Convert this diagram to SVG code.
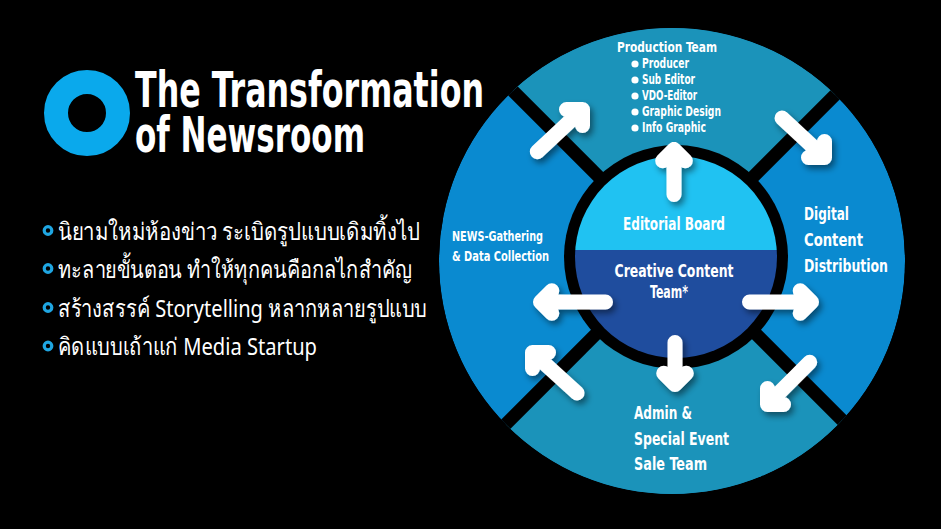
<svg xmlns="http://www.w3.org/2000/svg" width="941" height="529" viewBox="0 0 941 529">
<defs>
<style>
.cond{font-family:"DejaVu Sans Condensed","DejaVu Sans","Liberation Sans",sans-serif;font-stretch:condensed;fill:#ffffff;}
.title{font-weight:bold;font-size:49px;}
.lbl{font-weight:bold;font-size:17px;}
.sm{font-weight:bold;font-size:14px;}
.thai{font-family:"Noto Sans","DejaVu Sans","Liberation Sans",sans-serif;font-size:24px;fill:#ffffff;}
.arr{fill:none;stroke:#ffffff;stroke-width:15;stroke-linecap:round;stroke-linejoin:round;}
.gap{stroke:#000000;stroke-width:13;}
</style>
<clipPath id="outerClip"><circle cx="672" cy="261" r="233"/></clipPath>
<clipPath id="innerClip"><circle cx="676" cy="257" r="101"/></clipPath>
<filter id="shadow" x="-30%" y="-30%" width="160%" height="160%">
<feDropShadow dx="3" dy="4" stdDeviation="3" flood-color="#000000" flood-opacity="0.45"/>
</filter>
</defs>
<rect x="0" y="0" width="941" height="529" fill="#000000"/>

<g id="title">
<circle cx="87" cy="113" r="31" fill="none" stroke="#0aa9ec" stroke-width="24"/>
<text class="cond title" x="135" y="107" textLength="349" lengthAdjust="spacingAndGlyphs">The Transformation</text>
<text class="cond title" x="135" y="152" textLength="230" lengthAdjust="spacingAndGlyphs">of Newsroom</text>
</g>

<g id="bullets">
<g fill="none" stroke="#1fa6e2" stroke-width="3.2">
<circle cx="48" cy="230.5" r="3.8"/>
<circle cx="48" cy="268.5" r="3.8"/>
<circle cx="48" cy="307.5" r="3.8"/>
<circle cx="48" cy="346" r="3.8"/>
</g>
<text class="thai" x="58" y="240" textLength="362" lengthAdjust="spacingAndGlyphs">นิยามใหม่ห้องข่าว ระเบิดรูปแบบเดิมทิ้งไป</text>
<text class="thai" x="58" y="278" textLength="354" lengthAdjust="spacingAndGlyphs">ทะลายขั้นตอน ทำให้ทุกคนคือกลไกสำคัญ</text>
<text class="thai" x="58" y="317" textLength="369" lengthAdjust="spacingAndGlyphs">สร้างสรรค์ Storytelling หลากหลายรูปแบบ</text>
<text class="thai" x="58" y="355" textLength="259" lengthAdjust="spacingAndGlyphs">คิดแบบเถ้าแก่ Media Startup</text>
</g>

<g id="ring">
<g clip-path="url(#outerClip)">
<circle cx="672" cy="261" r="233" fill="#0a8ad0"/>
<polygon points="676,254 376,-46 976,-46" fill="#1b93ba"/>
<polygon points="676,254 376,554 976,554" fill="#1b93ba"/>
<line class="gap" x1="376" y1="-46" x2="976" y2="554"/>
<line class="gap" x1="976" y1="-46" x2="376" y2="554"/>
</g>
</g>

<g id="production-team">
<text class="cond sm" x="667" y="52" text-anchor="middle" font-size="15" textLength="100" lengthAdjust="spacingAndGlyphs">Production Team</text>
<g fill="#ffffff">
<circle cx="635" cy="64" r="3.6"/>
<circle cx="635" cy="80" r="3.6"/>
<circle cx="635" cy="96" r="3.6"/>
<circle cx="635" cy="112" r="3.6"/>
<circle cx="635" cy="128" r="3.6"/>
</g>
<text class="cond sm" x="642" y="68" textLength="47" lengthAdjust="spacingAndGlyphs">Producer</text>
<text class="cond sm" x="642" y="84" textLength="53" lengthAdjust="spacingAndGlyphs">Sub Editor</text>
<text class="cond sm" x="642" y="100" textLength="55" lengthAdjust="spacingAndGlyphs">VDO-Editor</text>
<text class="cond sm" x="642" y="116" textLength="79" lengthAdjust="spacingAndGlyphs">Graphic Design</text>
<text class="cond sm" x="642" y="132" textLength="64" lengthAdjust="spacingAndGlyphs">Info Graphic</text>
</g>

<g id="news-gathering">
<text class="cond sm" x="452" y="241" textLength="91" lengthAdjust="spacingAndGlyphs">NEWS-Gathering</text>
<text class="cond sm" x="452" y="261" textLength="97" lengthAdjust="spacingAndGlyphs">&amp; Data Collection</text>
</g>

<g id="digital-content-distribution">
<text class="cond lbl" x="804" y="220" textLength="45" lengthAdjust="spacingAndGlyphs">Digital</text>
<text class="cond lbl" x="804" y="246" textLength="59" lengthAdjust="spacingAndGlyphs">Content</text>
<text class="cond lbl" x="804" y="272" textLength="84" lengthAdjust="spacingAndGlyphs">Distribution</text>
</g>

<g id="admin-special-event">
<text class="cond lbl" x="634" y="419" textLength="58" lengthAdjust="spacingAndGlyphs">Admin &amp;</text>
<text class="cond lbl" x="634" y="445" textLength="95" lengthAdjust="spacingAndGlyphs">Special Event</text>
<text class="cond lbl" x="634" y="470" textLength="73" lengthAdjust="spacingAndGlyphs">Sale Team</text>
</g>

<g id="center">
<circle cx="676" cy="257" r="112" fill="#000000"/>
<g clip-path="url(#innerClip)">
<rect x="570" y="150" width="215" height="100" fill="#20c2f2"/>
<rect x="570" y="250" width="215" height="115" fill="#1f4d9e"/>
</g>
<text class="cond lbl" x="674" y="230" text-anchor="middle" textLength="102" lengthAdjust="spacingAndGlyphs">Editorial Board</text>
<text class="cond lbl" x="674" y="277" text-anchor="middle" textLength="119" lengthAdjust="spacingAndGlyphs">Creative Content</text>
<text class="cond lbl" x="669" y="298" text-anchor="middle" textLength="38" lengthAdjust="spacingAndGlyphs">Team*</text>
</g>

<g id="connectors" filter="url(#shadow)">
<path class="arr" d="M674,194.5 L674,149.5 M662.7,160.8 L674,149.5 L685.3,160.8"/>
<path class="arr" d="M675,342.5 L675,384.5 M663.7,373.2 L675,384.5 L686.3,373.2"/>
<path class="arr" d="M605.5,302 L540.5,302 M551.8,290.7 L540.5,302 L551.8,313.3"/>
<path class="arr" d="M749.5,302 L811.5,302 M800.2,290.7 L811.5,302 L800.2,313.3"/>
<path class="arr" d="M537.3,151.7 L582.5,109.5 M566.5,109.5 L582.5,109.5 L582.5,125.5"/>
<path class="arr" d="M782,118 L824.5,157.5 M808.5,157.5 L824.5,157.5 L824.5,141.5"/>
<path class="arr" d="M577,393 L532.5,352.5 M548.5,352.5 L532.5,352.5 L532.5,368.5"/>
<path class="arr" d="M809.7,362.3 L767.5,404.5 M783.5,404.5 L767.5,404.5 L767.5,388.5"/>
</g>
</svg>
